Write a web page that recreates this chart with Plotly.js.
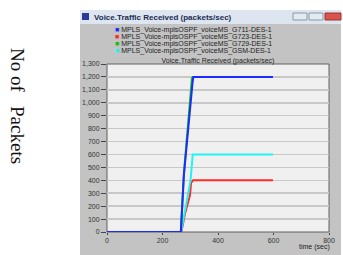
<!DOCTYPE html>
<html><head><meta charset="utf-8">
<script src="https://cdn.plot.ly/plotly-3.0.1.min.js"></script>
<style>html,body{margin:0;padding:0;background:#fff}#c{width:343px;height:255px}</style>
</head><body><div id="c"></div>
<script>
const seriesNames = [
  "MPLS_Voice-mplsOSPF_voiceMS_G711-DES-1",
  "MPLS_Voice-mplsOSPF_voiceMS_G723-DES-1",
  "MPLS_Voice-mplsOSPF_voiceMS_G729-DES-1",
  "MPLS_Voice-mplsOSPF_voiceMS_GSM-DES-1"
];
const seriesColors = ["#1a2cff", "#ff2a2a", "#10c010", "#22f2f2"];
const timeG711 = [0, 266, 277, 290, 300, 308, 311, 598];
const valG711  = [0, 0, 440, 760, 990, 1150, 1200, 1200];
const timeG723 = [0, 268, 282, 292, 299, 303, 310, 598];
const valG723  = [0, 0, 150, 230, 284, 380, 400, 400];
const timeG729 = [0, 266, 277, 290, 300, 306, 309, 598];
const valG729  = [0, 0, 450, 790, 1040, 1190, 1200, 1200];
const timeGSM  = [0, 267, 280, 292, 301, 309, 598];
const valGSM   = [0, 0, 150, 280, 400, 600, 600];
const yTitle = "No of\u00a0\u00a0 Packets";
const chartTitle = "Voice.Traffic Received (packets/sec)";
const xLabel = "time (sec)";

const times = [timeG723, timeGSM, timeG729, timeG711];
const vals = [valG723, valGSM, valG729, valG711];
const order = [1, 3, 2, 0];
const traces = order.map((k, i) => ({
  x: times[i], y: vals[i], mode: "lines", type: "scatter",
  name: seriesNames[k], line: {color: seriesColors[k], width: 2}, showlegend: false
}));

// geometry in paper units (plot area 107..329 x, 64..232 y)
const W = 222, H = 168;
const px = v => (v - 107) / W;
const py = v => (232 - v) / H;

const shapes = [
  {type:"rect", xref:"paper", yref:"paper", x0:px(80), x1:px(341), y0:py(256), y1:py(10), fillcolor:"#c3c3c3", line:{width:0}, layer:"below"},
  {type:"rect", xref:"paper", yref:"paper", x0:px(80), x1:px(341), y0:py(24), y1:py(10), fillcolor:"#dde6f0", line:{width:0}, layer:"below"},
  {type:"rect", xref:"paper", yref:"paper", x0:px(82), x1:px(89), y0:py(20), y1:py(13), fillcolor:"#2a3a9a", line:{width:0}, layer:"below"},
  {type:"rect", xref:"paper", yref:"paper", x0:px(293), x1:px(307), y0:py(20), y1:py(13), fillcolor:"#e4eaf2", line:{width:1,color:"#8a98aa"}, layer:"below"},
  {type:"rect", xref:"paper", yref:"paper", x0:px(309), x1:px(323), y0:py(20), y1:py(13), fillcolor:"#e4eaf2", line:{width:1,color:"#8a98aa"}, layer:"below"},
  {type:"rect", xref:"paper", yref:"paper", x0:px(325), x1:px(341), y0:py(20), y1:py(13), fillcolor:"#d9534a", line:{width:1,color:"#a03030"}, layer:"below"},
  {type:"rect", xref:"paper", yref:"paper", x0:0, x1:1, y0:0, y1:1, fillcolor:"#f0f0f0", line:{width:1,color:"#606060"}, layer:"below"}
];

const annotations = [
  {text: chartTitle, xref:"paper", yref:"paper", x:px(92), y:py(17), xanchor:"left", yanchor:"middle", showarrow:false,
   font:{family:"Liberation Sans, Arial", size:8, color:"#1a2a50", weight:"bold"}},
  {text: xLabel, xref:"paper", yref:"paper", x:px(332), y:py(247), xanchor:"right", yanchor:"middle", showarrow:false,
   font:{family:"Liberation Sans, Arial", size:7, color:"#222"}},
  {text: yTitle, xref:"paper", yref:"paper", x:px(18), y:py(106), xanchor:"center", yanchor:"middle", textangle:90, showarrow:false,
   font:{family:"Liberation Serif, Times New Roman, serif", size:19, color:"#111"}}
];
seriesNames.forEach((n, k) => {
  annotations.push({
    text: '<span style="color:' + seriesColors[k] + '">\u25A0</span> ' + n,
    xref:"paper", yref:"paper", x:px(113), y:py(30 + k*7), xanchor:"left", yanchor:"middle", showarrow:false,
    font:{family:"Liberation Sans, Arial", size:7, color:"#222"}
  });
});

const layout = {
  width:343, height:255,
  margin:{l:107, r:14, t:64, b:23, pad:0},
  paper_bgcolor:"#ffffff", plot_bgcolor:"rgba(0,0,0,0)",
  showlegend:false,
  title:{text: chartTitle, x:0.5, xref:"paper", y:1, yref:"paper", yanchor:"bottom", pad:{b:1},
         font:{family:"Liberation Sans, Arial", size:7, color:"#222"}},
  xaxis:{range:[0,800], dtick:200, tick0:0, showgrid:false, zeroline:false, ticks:"outside", ticklen:2, tickcolor:"#444",
         tickfont:{family:"Liberation Sans, Arial", size:7, color:"#333"}, showline:false},
  yaxis:{range:[0,1300], dtick:100, tick0:0, tickformat:",d", showgrid:true, gridcolor:"#c8c8c8", gridwidth:1.5, zeroline:false,
         ticks:"outside", ticklen:5, tickcolor:"#444", tickfont:{family:"Liberation Sans, Arial", size:7, color:"#333"}, showline:false},
  shapes: shapes,
  annotations: annotations
};
Plotly.newPlot("c", traces, layout, {staticPlot:true, displayModeBar:false});
</script>
</body></html>
